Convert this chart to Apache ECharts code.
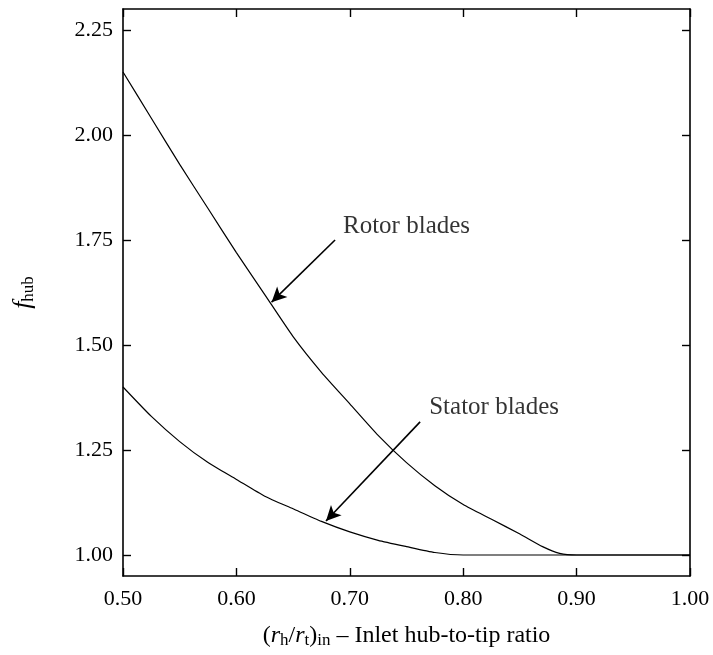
<!DOCTYPE html>
<html>
<head>
<meta charset="utf-8">
<script src="https://cdn.jsdelivr.net/npm/echarts@6/dist/echarts.min.js"></script>
<style>
  html, body { margin: 0; padding: 0; background: #fff; }
  #chart { width: 713px; height: 655px; }
</style>
</head>
<body>
<div id="chart"></div>
<script>
// values
const rotorX = [0.50, 0.525, 0.55, 0.575, 0.60, 0.625, 0.65, 0.675, 0.70, 0.725, 0.75, 0.775, 0.80, 0.825, 0.85, 0.87, 0.885, 0.90, 1.00];
const rotorY = [2.15, 2.04, 1.93, 1.825, 1.72, 1.62, 1.52, 1.435, 1.36, 1.285, 1.22, 1.165, 1.12, 1.085, 1.05, 1.02, 1.004, 1.00, 1.00];
const statorX = [0.50, 0.525, 0.55, 0.575, 0.60, 0.625, 0.65, 0.675, 0.70, 0.725, 0.75, 0.775, 0.80, 1.00];
const statorY = [1.40, 1.33, 1.27, 1.22, 1.18, 1.14, 1.11, 1.08, 1.055, 1.035, 1.02, 1.006, 1.00, 1.00];

const xTicks = [0.50, 0.60, 0.70, 0.80, 0.90, 1.00];
const yTicks = [1.00, 1.25, 1.50, 1.75, 2.00, 2.25];

// annotations (data coords)
const rotorArrow = [[0.687, 1.75], [0.631, 1.602]];
const statorArrow = [[0.762, 1.317], [0.679, 1.081]];
const noteText = ['Rotor blades', 'Stator blades'];
const notePos = [[0.694, 1.783], [0.770, 1.352]];

const FONT = 'Liberation Serif';
const zip = (xs, ys) => xs.map((x, i) => [x, ys[i]]);

let chart = echarts.init(document.getElementById('chart'));

const frameLine = { show: true, onZero: false, lineStyle: { color: '#000', width: 1.6 } };
const tick = { show: true, inside: true, length: 8, lineStyle: { color: '#000', width: 1.4 } };

function arrow(pts) {
    return {
        symbol: ['none', 'arrow'],
        symbolSize: [11, 15],
        silent: true,
        label: { show: false },
        lineStyle: { color: '#000', width: 1.6, type: 'solid' },
        data: [[{ coord: pts[0] }, { coord: pts[1] }]]
    };
}

let option = {
    animation: false,
    grid: { left: 123, right: 23, top: 9, bottom: 79 },
    xAxis: [
        {
            type: 'value', min: 0.5, max: 1.0, position: 'bottom',
            axisLine: frameLine,
            axisTick: Object.assign({ customValues: xTicks }, tick),
            axisLabel: {
                customValues: xTicks, margin: 12,
                color: '#000', fontFamily: FONT, fontSize: 22,
                formatter: v => v.toFixed(2)
            },
            splitLine: { show: false },
            name: '{p|(}{i|r}{s|h}{p|/}{i|r}{s|t}{p|)}{s|in}{p| – Inlet hub-to-tip ratio}',
            nameLocation: 'middle', nameGap: 46,
            nameTextStyle: {
                color: '#000', fontFamily: FONT, fontSize: 24,
                rich: {
                    p: { fontFamily: FONT, fontSize: 24, color: '#000' },
                    i: { fontFamily: FONT, fontSize: 24, fontStyle: 'italic', color: '#000' },
                    s: { fontFamily: FONT, fontSize: 17, color: '#000', padding: [10, 0, 0, 0] }
                }
            }
        },
        {
            type: 'value', min: 0.5, max: 1.0, position: 'top',
            axisLine: frameLine,
            axisTick: Object.assign({ customValues: xTicks }, tick),
            axisLabel: { show: false },
            splitLine: { show: false }
        }
    ],
    yAxis: [
        {
            type: 'value', min: 0.95, max: 2.30, position: 'left',
            axisLine: frameLine,
            axisTick: Object.assign({ customValues: yTicks }, tick),
            axisLabel: {
                customValues: yTicks, margin: 10,
                color: '#000', fontFamily: FONT, fontSize: 22,
                formatter: v => v.toFixed(2)
            },
            splitLine: { show: false },
            name: '{i|f}{s|hub}',
            nameLocation: 'middle', nameGap: 86, nameRotate: 90,
            nameTextStyle: {
                color: '#000', fontFamily: FONT, fontSize: 26,
                rich: {
                    i: { fontFamily: FONT, fontSize: 26, fontStyle: 'italic', color: '#000' },
                    s: { fontFamily: FONT, fontSize: 17, color: '#000', padding: [10, 0, 0, 0] }
                }
            }
        },
        {
            type: 'value', min: 0.95, max: 2.30, position: 'right',
            axisLine: frameLine,
            axisTick: Object.assign({ customValues: yTicks }, tick),
            axisLabel: { show: false },
            splitLine: { show: false }
        }
    ],
    series: [
        {
            name: 'Rotor', type: 'line', data: zip(rotorX, rotorY),
            smooth: 0.2, showSymbol: false, silent: true,
            lineStyle: { color: '#000', width: 1.2 },
            markLine: arrow(rotorArrow)
        },
        {
            name: 'Stator', type: 'line', data: zip(statorX, statorY),
            smooth: 0.2, showSymbol: false, silent: true,
            lineStyle: { color: '#000', width: 1.2 },
            markLine: arrow(statorArrow)
        },
        {
            name: 'notes', type: 'scatter', symbolSize: 0, silent: true,
            data: notePos.map((p, i) => ({ value: p, name: noteText[i] })),
            label: {
                show: true, position: [0, 0], align: 'left', verticalAlign: 'middle',
                color: '#000', textBorderWidth: 0, fontFamily: FONT, fontSize: 25,
                formatter: p => p.name
            }
        }
    ]
};

chart.setOption(option);
window.addEventListener('resize', () => chart.resize());
</script>
</body>
</html>
